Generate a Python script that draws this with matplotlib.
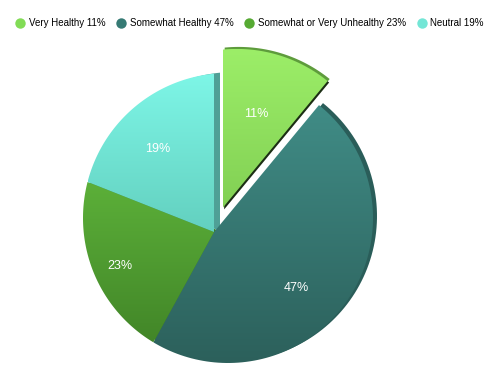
import numpy as np
import matplotlib
matplotlib.use('Agg')
import matplotlib.pyplot as plt
from matplotlib.patches import Polygon
from matplotlib.lines import Line2D
from matplotlib.colors import LinearSegmentedColormap

plt.rcParams['font.family'] = ['Liberation Sans', 'DejaVu Sans']

labels = ['Very Healthy', 'Somewhat Healthy', 'Somewhat or Very Unhealthy', 'Neutral']
shares = [11, 47, 23, 19]
legend_colors = ['#82dc56', '#367a74', '#56aa33', '#74e6d6']
top_colors = ['#9cee68', '#408c86', '#5cb039', '#7ef6e7']
bottom_colors = ['#82d054', '#2c605b', '#428628', '#63d0bf']
rim_colors = ['#5e9c3c', '#2a5d59', '#3d7e25', '#4fa096']
rim_shift = [(2, 2), (4, 2), (3, 2), (6, 1)]

fig = plt.figure(figsize=(5, 3.74), dpi=100)
ax = fig.add_axes([0, 0, 1, 1])

apex = (214, 142)
R = 145
tilt = (14, 14)  # circle centre sits up-right of the apex (fake perspective)

wedges, texts, autotexts = ax.pie(shares, startangle=90, counterclock=False,
                                  explode=[25.6, 0, 0, 0], center=apex, radius=R,
                                  autopct='%.0f%%', pctdistance=0.69,
                                  textprops=dict(color='white', fontsize=9))


def outline(w):
    # rays from the slice apex out to a circle shifted by `tilt`
    x0, y0 = w.center
    dx, dy = -tilt[0], -tilt[1]
    th = np.radians(np.linspace(w.theta1, w.theta2, 100))
    ux, uy = np.cos(th), np.sin(th)
    b = dx * ux + dy * uy
    d = -b + np.sqrt(b * b - (dx * dx + dy * dy - R * R))
    pts = np.column_stack([x0 + d * ux, y0 + d * uy])
    return np.vstack([[x0, y0], pts])


# side rims / shadows first
for i, w in enumerate(wedges):
    w.set_visible(False)
    v = outline(w)
    ax.add_patch(Polygon(v + rim_shift[i], closed=True, facecolor=rim_colors[i],
                         edgecolor='none', zorder=1))
    if i == 0:
        ax.add_patch(Polygon(v + [1.5, -1.5], closed=True, facecolor='#1c2e14',
                             edgecolor='none', zorder=1))

# gradient faces
for i, w in enumerate(wedges):
    v = outline(w)
    face = Polygon(v, closed=True, facecolor='none', edgecolor='none', zorder=2)
    ax.add_patch(face)
    cmap = LinearSegmentedColormap.from_list('g%d' % i, [bottom_colors[i], top_colors[i]])
    grad = np.linspace(0, 1, 256).reshape(-1, 1)
    im = ax.imshow(grad, cmap=cmap, origin='lower', aspect='auto', interpolation='bilinear',
                   extent=[v[:, 0].min(), v[:, 0].max(), v[:, 1].min(), v[:, 1].max()],
                   zorder=2)
    im.set_clip_path(face)

for t in autotexts:
    t.set_zorder(5)

handles = [Line2D([], [], ls='none', marker='o', markersize=7.5,
                  markerfacecolor=c, markeredgecolor='none') for c in legend_colors]
fig.legend(handles, ['%s %d%%' % (l, s) for l, s in zip(labels, shares)],
           loc='upper center', bbox_to_anchor=(0.5, 0.978), ncol=4, frameon=False,
           fontsize=7, handlelength=0.8, handletextpad=0.5, columnspacing=1.2,
           borderaxespad=0.6)

ax.set_xlim(0, 500)
ax.set_ylim(0, 374)
ax.axis('off')

fig.savefig('out.png', dpi=100)
